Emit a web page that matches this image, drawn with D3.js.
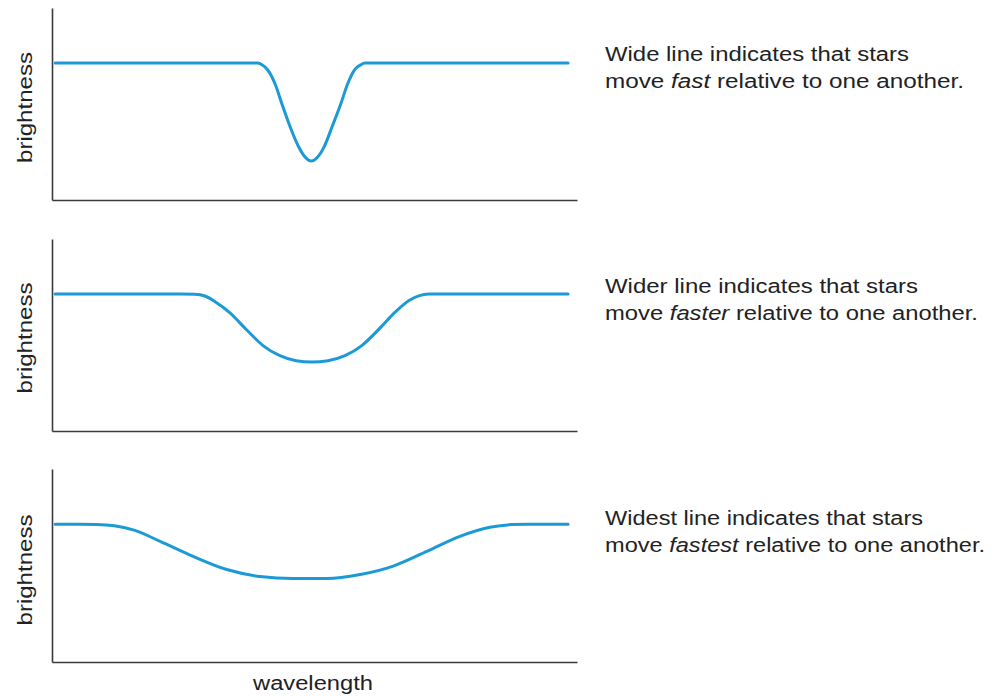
<!DOCTYPE html>
<html>
<head>
<meta charset="utf-8">
<script src="https://cdn.jsdelivr.net/npm/d3@7"></script>
<style>
  html, body { margin: 0; padding: 0; background: #ffffff; }
  svg { display: block; }
  text { font-family: "Liberation Sans", Arial, Helvetica, sans-serif; fill: #222; }
</style>
</head>
<body>
<svg id="chart" width="1003" height="696"></svg>
<script>
// ---- data (wavelength in arbitrary units 0-100, brightness 0-1) ----
const wavelength1 = [0.6, 30.0, 37.5, 39.2, 40.0, 41.1, 42.5, 43.8, 45.3, 46.9, 48.2, 49.4, 50.6, 51.9, 53.4, 55.0, 56.3, 57.6, 58.8, 59.6, 61.3, 70.0, 98.3];
const brightness1 = [0.714, 0.714, 0.714, 0.713, 0.704, 0.677, 0.604, 0.5, 0.385, 0.281, 0.224, 0.203, 0.224, 0.281, 0.385, 0.5, 0.604, 0.677, 0.704, 0.713, 0.714, 0.714, 0.714];

const wavelength2 = [0.6, 15.0, 24.5, 27.2, 29.1, 31.0, 33.9, 37.1, 40.2, 43.4, 46.5, 49.5, 52.6, 55.8, 59.0, 62.2, 65.4, 68.0, 70.0, 71.8, 74.5, 85.0, 98.3];
const brightness2 = [0.714, 0.714, 0.714, 0.712, 0.703, 0.675, 0.615, 0.526, 0.445, 0.392, 0.366, 0.359, 0.366, 0.392, 0.445, 0.528, 0.620, 0.680, 0.705, 0.713, 0.714, 0.714, 0.714];

const wavelength3 = [0.6, 5.0, 8.5, 11.9, 15.8, 20.6, 26.9, 33.3, 39.6, 45.9, 52.4, 58.7, 65.0, 71.4, 77.7, 83.4, 87.5, 91.0, 98.3];
const brightness3 = [0.714, 0.714, 0.713, 0.706, 0.682, 0.625, 0.547, 0.479, 0.443, 0.432, 0.432, 0.453, 0.497, 0.573, 0.651, 0.698, 0.712, 0.714, 0.714];

const captionLead = ["Wide line indicates that stars", "Wider line indicates that stars", "Widest line indicates that stars"];
const captionEmph = ["fast", "faster", "fastest"];
const yLabel = "brightness";
const xLabel = "wavelength";

// ---- layout ----
const svg = d3.select("#chart");
const xLeft = 52, xRight = 577;
const panels = [
  { top: 8,   bottom: 200, w: wavelength1, b: brightness1, t1: 61,  t2: 88,  l1: 304, l2: 359, yl: 107.5 },
  { top: 239, bottom: 431, w: wavelength2, b: brightness2, t1: 293, t2: 320, l1: 313, l2: 373, yl: 338 },
  { top: 469, bottom: 662, w: wavelength3, b: brightness3, t1: 525, t2: 552, l1: 318, l2: 380, yl: 570 }
];

const x = d3.scaleLinear().domain([0, 100]).range([xLeft, xRight]);

panels.forEach((p, i) => {
  const y = d3.scaleLinear().domain([0, 1]).range([p.bottom, p.top]);
  const g = svg.append("g");

  // axes: only the domain lines, no ticks
  const ax = g.append("g").attr("transform", `translate(0,${p.bottom})`)
    .call(d3.axisBottom(x).tickValues([]).tickSizeOuter(0));
  const ay = g.append("g").attr("transform", `translate(${xLeft},0)`)
    .call(d3.axisLeft(y).tickValues([]).tickSizeOuter(0));
  [ax, ay].forEach(a => a.select(".domain").attr("stroke", "#3a3a3a").attr("stroke-width", 1.6));

  // spectral line profile
  const pts = p.w.map((v, k) => [v, p.b[k]]);
  const line = d3.line().x(d => x(d[0])).y(d => y(d[1])).curve(d3.curveMonotoneX);
  g.append("path").datum(pts)
    .attr("d", line)
    .attr("fill", "none")
    .attr("stroke", "#1b9ad6")
    .attr("stroke-width", 3)
    .attr("stroke-linejoin", "round")
    .attr("stroke-linecap", "round");

  // y label
  g.append("text")
    .attr("transform", `translate(32,${p.yl}) rotate(-90)`)
    .attr("text-anchor", "middle")
    .attr("font-size", 20)
    .attr("textLength", 111)
    .attr("lengthAdjust", "spacingAndGlyphs")
    .text(yLabel);

  // caption
  g.append("text")
    .attr("x", 605).attr("y", p.t1)
    .attr("font-size", 20)
    .attr("textLength", p.l1)
    .attr("lengthAdjust", "spacingAndGlyphs")
    .text(captionLead[i]);
  const t2 = g.append("text")
    .attr("x", 605).attr("y", p.t2)
    .attr("font-size", 20)
    .attr("textLength", p.l2)
    .attr("lengthAdjust", "spacingAndGlyphs");
  t2.append("tspan").text("move ");
  t2.append("tspan").attr("font-style", "italic").text(captionEmph[i]);
  t2.append("tspan").text(" relative to one another.");
});

svg.append("text")
  .attr("x", 313).attr("y", 690)
  .attr("text-anchor", "middle")
  .attr("font-size", 20)
  .attr("textLength", 120)
  .attr("lengthAdjust", "spacingAndGlyphs")
  .text(xLabel);
</script>
</body>
</html>
